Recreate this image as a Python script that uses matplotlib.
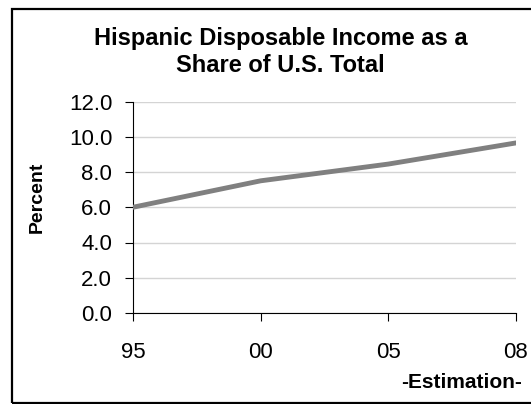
import matplotlib
matplotlib.use("Agg")
import matplotlib.pyplot as plt
from matplotlib.patches import Rectangle

plt.rcParams['font.family'] = ['Liberation Sans', 'DejaVu Sans']

years = ["95", "00", "05", "08"]
share = [6.0, 7.5, 8.45, 9.65]
yticks = [0.0, 2.0, 4.0, 6.0, 8.0, 10.0, 12.0]

W, H = 531, 404
fig = plt.figure(figsize=(W / 100, H / 100), dpi=100)
fig.patch.set_facecolor("white")

# outer frame around the chart
fig.add_artist(Rectangle((12 / W, 1 / H), 1.0, (H - 10) / H, transform=fig.transFigure,
                         fill=False, edgecolor="black", linewidth=1.6))

ax = fig.add_axes([133 / W, (H - 313) / H, (516 - 133) / W, (313 - 101.5) / H])
x = list(range(len(years)))
ax.plot(x, share, color="#808080", linewidth=3.5, solid_capstyle="round", zorder=3)

ax.set_xlim(0, len(years) - 1)
ax.set_ylim(0, 12)
ax.set_yticks(yticks)
ax.set_yticklabels([f"{v:.1f}" for v in yticks], fontsize=16)
ax.set_xticks(x)
ax.set_xticklabels(years, fontsize=16)
ax.grid(axis="y", color="#d4d4d4", linewidth=1.0)
ax.set_axisbelow(True)

for side in ("top", "right"):
    ax.spines[side].set_visible(False)
for side in ("left", "bottom"):
    ax.spines[side].set_color("black")
    ax.spines[side].set_linewidth(0.8)
ax.tick_params(axis="y", direction="out", length=6, width=0.8, pad=9)
ax.tick_params(axis="x", direction="out", length=6, width=0.8, pad=15)

fig.text(37.5 / W, (H - 197.5) / H, "Percent", rotation=90, ha="center", va="center",
         fontsize=14, fontweight="bold")

fig.text(280.5 / W, (H - 27) / H, "Hispanic Disposable Income as a\nShare of U.S. Total",
         ha="center", va="top", fontsize=17, fontweight="bold", linespacing=1.25)
fig.text(522 / W, (H - 382) / H, "-Estimation-", ha="right", va="center",
         fontsize=15, fontweight="bold")

fig.savefig("out.png", dpi=100)
